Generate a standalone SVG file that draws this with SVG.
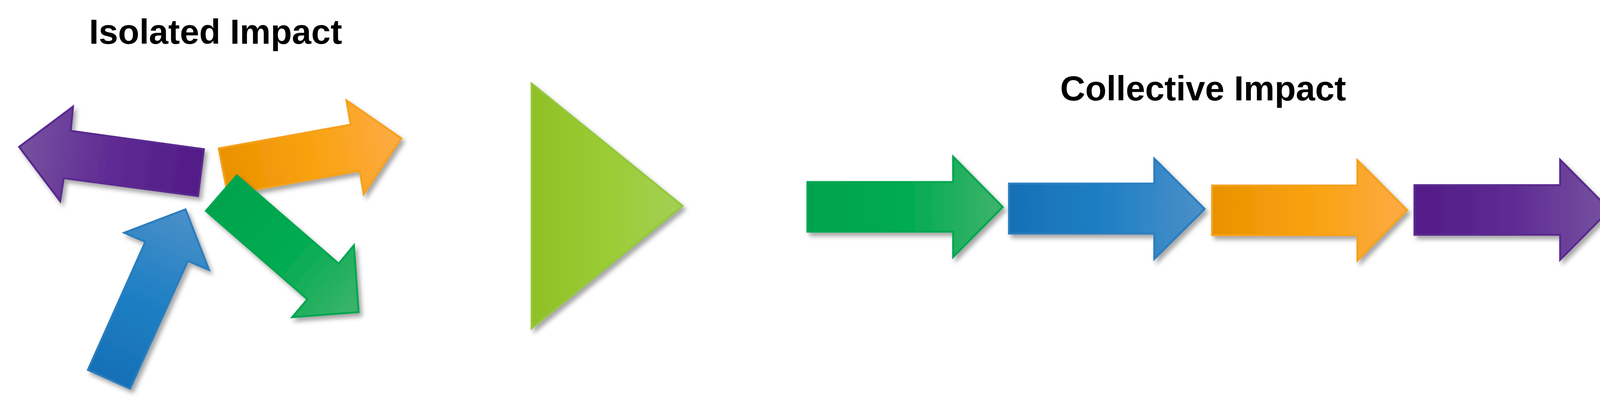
<svg xmlns="http://www.w3.org/2000/svg" width="4151" height="1024" viewBox="0 0 4151 1024">
<style>
.title{font-family:"Liberation Sans",Arial,sans-serif;font-weight:bold;font-size:89px;fill:#000;text-anchor:middle}
.sh{filter:url(#shadow)}
.sp{stroke:#5a2a8f;stroke-width:5;stroke-linejoin:miter}
.so{stroke:#f5a01a;stroke-width:5;stroke-linejoin:miter}
.sg{stroke:#00a651;stroke-width:5;stroke-linejoin:miter}
.sb{stroke:#2a7dbf;stroke-width:5;stroke-linejoin:miter}
.st{stroke:#93c83a;stroke-width:5;stroke-linejoin:miter}
</style>
<defs>
<filter id="shadow" x="-20%" y="-20%" width="140%" height="140%">
<feDropShadow dx="7" dy="9" stdDeviation="6" flood-color="#000" flood-opacity="0.35"/>
</filter>
<linearGradient id="gPurpH" x1="0" y1="0" x2="1" y2="0">
<stop offset="0" stop-color="#521b87"/><stop offset="0.5" stop-color="#5f2b93"/><stop offset="1" stop-color="#7652a0"/>
</linearGradient>
<linearGradient id="gOrH" x1="0" y1="0" x2="1" y2="0">
<stop offset="0" stop-color="#e89200"/><stop offset="0.5" stop-color="#f9a20f"/><stop offset="1" stop-color="#fdab46"/>
</linearGradient>
<linearGradient id="gGrH" x1="0" y1="0" x2="1" y2="0">
<stop offset="0" stop-color="#00a34c"/><stop offset="0.5" stop-color="#00ab51"/><stop offset="1" stop-color="#3fb46b"/>
</linearGradient>
<linearGradient id="gBlH" x1="0" y1="0" x2="1" y2="0">
<stop offset="0" stop-color="#1670b6"/><stop offset="0.5" stop-color="#2080c4"/><stop offset="1" stop-color="#4b90c8"/>
</linearGradient>
<linearGradient id="gTri" x1="0" y1="0" x2="1" y2="0">
<stop offset="0" stop-color="#8fc027"/><stop offset="0.5" stop-color="#9bcc33"/><stop offset="1" stop-color="#a4d056"/>
</linearGradient>
<linearGradient id="gPurpR" gradientUnits="userSpaceOnUse" x1="515" y1="443" x2="49" y2="376">
<stop offset="0" stop-color="#521b87"/><stop offset="0.5" stop-color="#5f2b93"/><stop offset="1" stop-color="#7652a0"/>
</linearGradient>
<linearGradient id="gOrR" gradientUnits="userSpaceOnUse" x1="572" y1="440" x2="1027" y2="354">
<stop offset="0" stop-color="#e89200"/><stop offset="0.5" stop-color="#f9a20f"/><stop offset="1" stop-color="#fdab46"/>
</linearGradient>
<linearGradient id="gGrR" gradientUnits="userSpaceOnUse" x1="567" y1="496" x2="918" y2="799">
<stop offset="0" stop-color="#00a34c"/><stop offset="0.5" stop-color="#00ab51"/><stop offset="1" stop-color="#3fb46b"/>
</linearGradient>
<linearGradient id="gBlR" gradientUnits="userSpaceOnUse" x1="279" y1="971" x2="475" y2="536">
<stop offset="0" stop-color="#1670b6"/><stop offset="0.5" stop-color="#2080c4"/><stop offset="1" stop-color="#4b90c8"/>
</linearGradient>
</defs>
<rect width="4151" height="1024" fill="#fff"/>

<g id="title-isolated"><text class="title" x="552" y="112">Isolated Impact</text></g>
<g id="title-collective"><text class="title" x="3080" y="257">Collective Impact</text></g>

<g id="isolated-purple" class="sh"><polygon class="sp" fill="url(#gPurpR)" points="49,376 187,273 181,335 522,382 507,502 163,456 154,515"/></g>
<g id="isolated-blue" class="sh"><polygon class="sb" fill="url(#gBlR)" points="225,947 333,995 481,668 535,691 475,536 318,596 372,619"/></g>
<g id="isolated-orange" class="sh"><polygon class="so" fill="url(#gOrR)" points="560,380 898,319 887,257 1027,354 931,497 921,437 583,498"/></g>
<g id="isolated-green" class="sh"><polygon class="sg" fill="url(#gGrR)" points="606,449 867,675 906,628 918,799 748,812 787,766 527,540"/></g>

<g id="transition-triangle" class="sh"><polygon class="st" fill="url(#gTri)" points="1361,214 1747,527 1361,840"/></g>

<g id="collective-green" class="sh"><polygon class="sg" fill="url(#gGrH)" points="2067,466 2440,466 2440,401 2567,530 2440,658 2440,593 2067,593"/></g>
<g id="collective-blue" class="sh"><polygon class="sb" fill="url(#gBlH)" points="2583,470 2955,470 2955,406 3084,535 2955,663 2955,598 2583,598"/></g>
<g id="collective-orange" class="sh"><polygon class="so" fill="url(#gOrH)" points="3103,475 3475,475 3475,410 3602,538 3475,667 3475,602 3103,602"/></g>
<g id="collective-purple" class="sh"><polygon class="sp" fill="url(#gPurpH)" points="3621,474 3994,474 3994,409 4121,537 3994,665 3994,601 3621,601"/></g>

<g id="connectors"></g>
</svg>
